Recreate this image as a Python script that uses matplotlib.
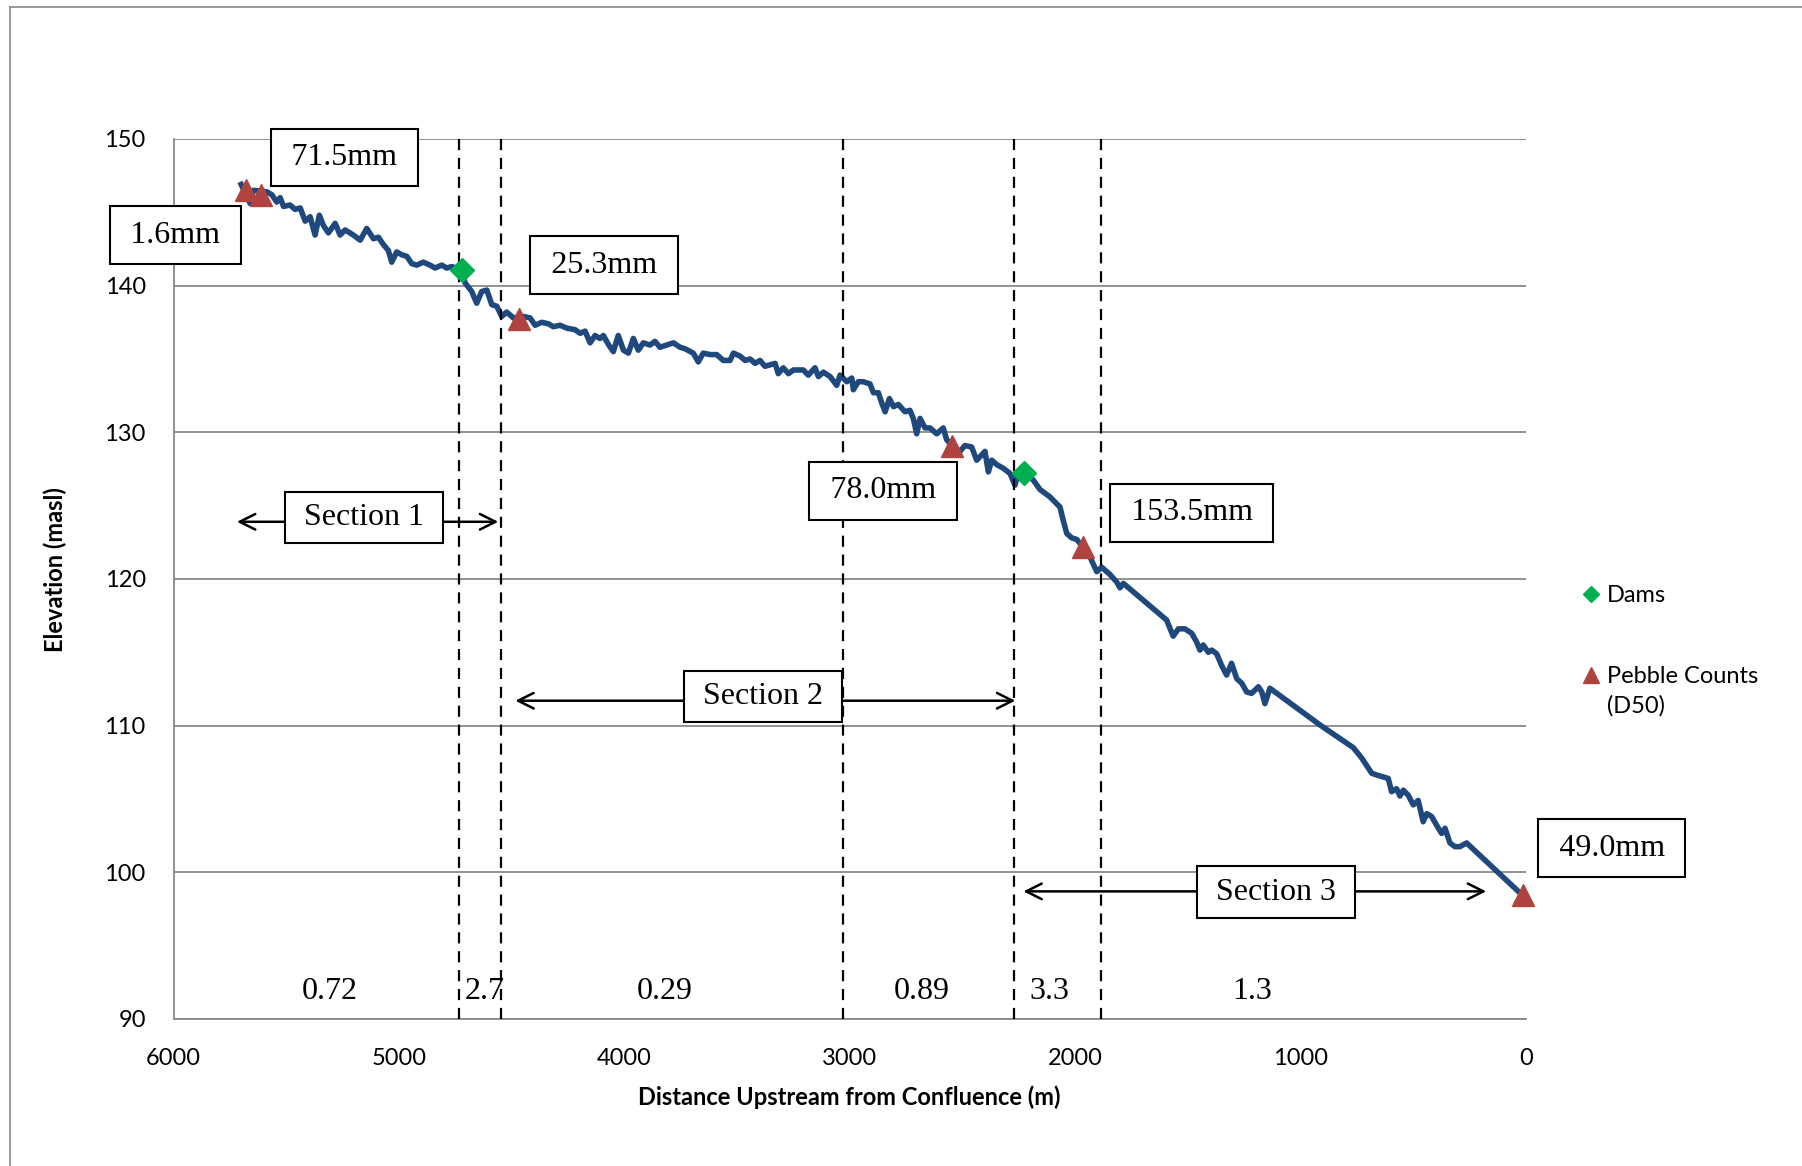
import matplotlib.pyplot as plt
from matplotlib.lines import Line2D

# longitudinal profile (distance upstream m, elevation masl)
profile_dist = [5700, 5660, 5646, 5586, 5564, 5542, 5527, 5512, 5483, 5461, 5438, 5416, 5394, 5372,
                5353, 5335, 5313, 5283, 5261, 5239, 5202, 5172, 5143, 5113, 5091, 5069, 5047, 5032,
                5010, 4987, 4965, 4943, 4921, 4892, 4862, 4840, 4810, 4788, 4766, 4721, 4707, 4677,
                4655, 4633, 4610, 4588, 4566, 4544, 4522, 4492, 4448, 4418, 4396, 4366, 4337, 4315,
                4285, 4255, 4219, 4196, 4174, 4152, 4130, 4108, 4093, 4071, 4049, 4027, 4004, 3982,
                3960, 3938, 3916, 3886, 3864, 3842, 3812, 3782, 3753, 3731, 3694, 3672, 3650, 3620,
                3590, 3561, 3531, 3516, 3487, 3464, 3442, 3420, 3398, 3376, 3354, 3331, 3317, 3295,
                3272, 3250, 3206, 3184, 3154, 3139, 3117, 3087, 3058, 3043, 3013, 2991, 2984, 2962,
                2940, 2910, 2895, 2873, 2858, 2843, 2824, 2806, 2784, 2755, 2733, 2718, 2703, 2688,
                2666, 2644, 2614, 2585, 2570, 2548, 2511, 2489, 2459, 2437, 2415, 2400, 2385, 2370,
                2348, 2319, 2289, 2267, 2252, 2226, 2186, 2156, 2112, 2067, 2053, 2037, 2015, 1993,
                1967, 1934, 1904, 1882, 1845, 1816, 1801, 1786, 1594, 1565, 1542, 1513, 1483, 1461,
                1446, 1432, 1409, 1394, 1372, 1350, 1328, 1306, 1283, 1261, 1239, 1217, 1187, 1172,
                1158, 1136, 914, 766, 729, 684, 655, 611, 596, 574, 559, 544, 522, 500,
                478, 456, 440, 418, 396, 374, 359, 337, 315, 293, 263, 27]
profile_elev = [146.9, 145.6, 146.5, 146.4, 146.2, 145.7, 146.0, 145.4, 145.5, 145.2, 145.3, 144.4, 144.7, 143.45,
                144.8, 144.1, 143.6, 144.25, 143.45, 143.8, 143.45, 143.1, 143.9, 143.2, 143.3, 142.8, 142.4, 141.6,
                142.3, 142.1, 142.0, 141.5, 141.4, 141.6, 141.4, 141.2, 141.4, 141.2, 141.3, 141.1, 140.2, 139.6,
                138.8, 139.6, 139.7, 138.7, 138.6, 137.9, 138.2, 137.8, 137.9, 137.8, 137.3, 137.5, 137.4, 137.2,
                137.3, 137.1, 137.0, 136.75, 136.9, 136.1, 136.6, 136.4, 136.6, 136.0, 135.5, 136.6, 135.6, 135.4,
                136.4, 135.6, 136.1, 135.95, 136.2, 135.8, 135.95, 136.1, 135.8, 135.7, 135.4, 134.8, 135.4, 135.3,
                135.3, 134.9, 134.9, 135.4, 135.2, 134.9, 135.0, 134.7, 134.9, 134.5, 134.6, 134.7, 134.0, 134.4,
                134.0, 134.25, 134.25, 133.9, 134.4, 133.8, 134.1, 133.8, 133.2, 133.9, 133.45, 133.7, 132.9, 133.45,
                133.45, 133.3, 132.7, 132.7, 132.0, 131.4, 132.3, 131.75, 131.9, 131.4, 131.5, 130.95, 129.9, 130.95,
                130.3, 130.3, 129.9, 130.3, 129.5, 129.1, 128.7, 129.1, 129.0, 128.1, 128.45, 128.7, 127.3, 128.1,
                127.8, 127.55, 127.2, 126.4, 127.2, 127.25, 126.75, 126.1, 125.6, 124.9, 124.0, 123.1, 122.8, 122.7,
                122.2, 121.5, 120.5, 120.8, 120.3, 119.8, 119.4, 119.7, 117.2, 116.1, 116.6, 116.6, 116.3, 115.7,
                115.15, 115.5, 115.0, 115.15, 114.9, 114.1, 113.45, 114.25, 113.2, 112.9, 112.3, 112.2, 112.65, 112.3,
                111.5, 112.55, 110.05, 108.5, 107.8, 106.75, 106.6, 106.4, 105.5, 105.7, 105.2, 105.6, 105.25, 104.6,
                104.9, 103.45, 104.0, 103.8, 103.2, 102.65, 103.0, 102.0, 101.75, 101.75, 102.0, 98.6]

dam_dist = [4721, 2226]
dam_elev = [141.1, 127.25]

pebble_dist = [5678, 5613, 4466, 2548, 1967, 15]
pebble_elev = [146.5, 146.2, 137.7, 129.1, 122.2, 98.45]

# section breaks (dashed lines) and slopes written between them
break_dist = [4735, 4548, 3028, 2271, 1887]
slope_labels = ['0.72', '2.7', '0.29', '0.89', '3.3', '1.3']
slope_x = [5305, 4620, 3820, 2681, 2116, 1214]

# D50 callouts
d50_labels = ['71.5mm', '1.6mm', '25.3mm', '78.0mm', '153.5mm', '49.0mm']
d50_x = [5243, 5993, 4090, 2852, 1482, -381]
d50_y = [148.74, 143.45, 141.4, 126.0, 124.5, 101.65]

# sections: label, box centre, arrow ends, arrow height
sec_labels = ['Section 1', 'Section 2', 'Section 3']
sec_x = [5155, 3385, 1109]
sec_box_y = [124.2, 112.0, 98.65]
sec_y = [123.9, 111.7, 98.7]
sec_start = [5731, 4496, 2242]
sec_end = [4547, 2253, 164]

fig = plt.figure(figsize=(18.02, 11.66), dpi=100)
ax = fig.add_axes([0.0963, 0.1261, 0.7505, 0.7547])

ax.plot(profile_dist, profile_elev, color='#1F497D', lw=4, zorder=3, solid_joinstyle='round')
ax.vlines(break_dist, 90, 150, colors='black', linestyles=(0, (5, 3.5)), lw=1.6, zorder=4)
ax.plot(dam_dist, dam_elev, 'D', color='#00B050', ms=12, ls='none', label='Dams', zorder=5)
ax.plot(pebble_dist, pebble_elev, '^', color='#B0433F', ms=16, ls='none',
        label='Pebble Counts', zorder=5, clip_on=False)

ax.set_xlim(6000, 0)
ax.set_ylim(90, 150)
ax.set_xticks([6000, 5000, 4000, 3000, 2000, 1000, 0])
ax.set_yticks([90, 100, 110, 120, 130, 140, 150])
ax.grid(axis='y', color='#898989', lw=1.3)
ax.set_axisbelow(True)
for side in ['top', 'right']:
    ax.spines[side].set_visible(False)
ax.spines['left'].set_color('#898989')
ax.spines['bottom'].set_color('#898989')
ax.spines['left'].set_linewidth(1.3)
ax.spines['bottom'].set_linewidth(1.3)
ax.tick_params(length=0, labelsize=17)
ax.tick_params(axis='x', pad=21)
ax.tick_params(axis='y', pad=20)
for lab in ax.get_xticklabels() + ax.get_yticklabels():
    lab.set_family('Lato')

ax.set_xlabel('Distance Upstream from Confluence (m)', fontsize=17, fontweight='bold', family='Lato')
ax.set_ylabel('Elevation (masl)', fontsize=17, fontweight='bold', family='Lato')
ax.xaxis.set_label_coords(0.5, -0.076)
ax.yaxis.set_label_coords(-0.0785, 0.511)

serif = 'Liberation Serif'
box = dict(boxstyle='square,pad=0.45', fc='white', ec='black', lw=1.5)
sec_box = dict(boxstyle='square,pad=0.35', fc='white', ec='black', lw=1.5)

for lab, x, y in zip(d50_labels, d50_x, d50_y):
    ax.text(x, y, '\u2009' + lab + '\u2009', ha='center', va='center', fontsize=23, family=serif,
            bbox=box, zorder=6, clip_on=False)

for lab, x in zip(slope_labels, slope_x):
    ax.text(x, 91.85, lab, ha='center', va='center', fontsize=23, family=serif, zorder=6)

for lab, x, yb, y, x0, x1 in zip(sec_labels, sec_x, sec_box_y, sec_y, sec_start, sec_end):
    ax.annotate('', xy=(x0, y), xytext=(x1, y),
                arrowprops=dict(arrowstyle='<->', lw=1.8, color='black', mutation_scale=28),
                zorder=6)
    ax.text(x, yb, ' ' + lab + ' ', ha='center', va='center', fontsize=23, family=serif,
            bbox=sec_box, zorder=7)

leg = ax.legend(loc='upper left', bbox_to_anchor=(1583 / 1802, 1 - 585 / 1166),
                bbox_transform=fig.transFigure, frameon=False, prop={'family': 'Lato', 'size': 17},
                handlelength=0.7, handletextpad=0.3, labelspacing=2.55, markerscale=0.7,
                borderpad=0, borderaxespad=0)
fig.text(1607 / 1802, 1 - 706 / 1166, '(D50)', ha='left', va='center', fontsize=17, family='Lato')

# outer frame of the original figure
fig.add_artist(Line2D([10 / 1802, 10 / 1802], [0, 1 - 7 / 1166], transform=fig.transFigure,
                      color='#888888', lw=1.2))
fig.add_artist(Line2D([10 / 1802, 1], [1 - 7 / 1166, 1 - 7 / 1166], transform=fig.transFigure,
                      color='#888888', lw=1.2))

fig.savefig('out.png', dpi=100)
